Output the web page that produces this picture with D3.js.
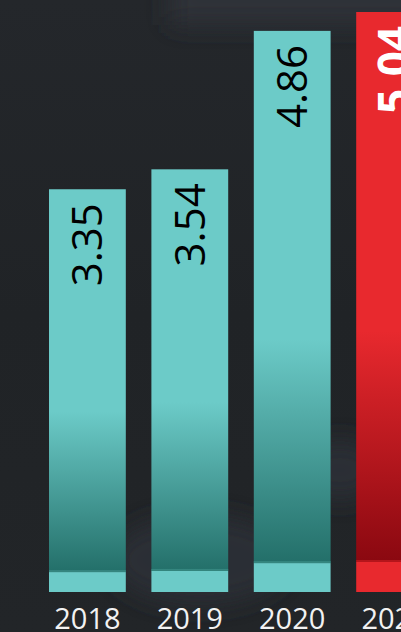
<!DOCTYPE html>
<html>
<head>
<meta charset="utf-8">
<script src="https://cdn.jsdelivr.net/npm/d3@7"></script>
<style>
  html, body { margin: 0; padding: 0; background: #212428; overflow: hidden; }
  svg { display: block; }
</style>
</head>
<body>
<svg id="chart" width="401" height="632"></svg>
<script>
// ---- data ----
const years = ["2018", "2019", "2020", "2021"];
const values = [3.35, 3.54, 4.86, 5.04];
const labels = ["3.35", "3.54", "4.86", "5.04"];
const highlight = [false, false, false, true];

const W = 401, H = 632;
const svg = d3.select("#chart");
const defs = svg.append("defs");

// ---- background ----
const bg = defs.append("linearGradient").attr("id", "bg").attr("x1", 0).attr("y1", 0).attr("x2", 0).attr("y2", 1);
bg.append("stop").attr("offset", 0).attr("stop-color", "#24272b");
bg.append("stop").attr("offset", 0.5).attr("stop-color", "#202326");
bg.append("stop").attr("offset", 1).attr("stop-color", "#222528");
svg.append("rect").attr("width", W).attr("height", H).attr("fill", "url(#bg)");

const blur = defs.append("filter").attr("id", "blur").attr("x", "-50%").attr("y", "-50%").attr("width", "200%").attr("height", "200%");
blur.append("feGaussianBlur").attr("stdDeviation", 12);
svg.append("rect").attr("x", 170).attr("y", -30).attr("width", 280).attr("height", 55)
  .attr("fill", "#2e3139").attr("filter", "url(#blur)");
svg.append("ellipse").attr("cx", 200).attr("cy", 560).attr("rx", 90).attr("ry", 45)
  .attr("fill", "#2a2d34").attr("filter", "url(#blur)");
svg.append("ellipse").attr("cx", 340).attr("cy", 470).attr("rx", 40).attr("ry", 30)
  .attr("fill", "#2c2f34").attr("filter", "url(#blur)");

// ---- scales ----
const baseY = 592;
const x = d3.scaleBand().domain(years).range([49, 433]).paddingInner(0.25).paddingOuter(0);
const y = d3.scaleLinear().domain([-0.49, 5.04]).range([baseY, 12]);
const band = d3.scaleLinear().domain([0, 5.04]).range([0, 30]);

const palettes = {
  teal: { light: "#6ccbc8", dark: "#236f69", line: "#35867f" },
  red:  { light: "#e8292e", dark: "#8a0810", line: "#b5151b" }
};

function gradFor(id, p) {
  const g = defs.append("linearGradient").attr("id", id)
    .attr("x1", 0).attr("y1", 0).attr("x2", 0).attr("y2", 1);
  g.append("stop").attr("offset", 0).attr("stop-color", p.light);
  g.append("stop").attr("offset", 0.58).attr("stop-color", p.light);
  g.append("stop").attr("offset", 1).attr("stop-color", p.dark);
}
gradFor("gTeal", palettes.teal);
gradFor("gRed", palettes.red);

const data = years.map((yr, i) => ({ year: yr, value: values[i], label: labels[i], hi: highlight[i] }));

const g = svg.append("g");
const bars = g.selectAll("g.bar").data(data).join("g").attr("class", "bar");

bars.append("rect")
  .attr("x", d => x(d.year))
  .attr("y", d => y(d.value))
  .attr("width", x.bandwidth())
  .attr("height", d => baseY - band(d.value) - y(d.value))
  .attr("fill", d => d.hi ? "url(#gRed)" : "url(#gTeal)");

bars.append("rect")
  .attr("x", d => x(d.year))
  .attr("y", d => baseY - band(d.value))
  .attr("width", x.bandwidth())
  .attr("height", d => band(d.value))
  .attr("fill", d => d.hi ? palettes.red.light : palettes.teal.light);

bars.append("rect")
  .attr("x", d => x(d.year))
  .attr("y", d => baseY - band(d.value) - 2)
  .attr("width", x.bandwidth())
  .attr("height", 2)
  .attr("fill", d => d.hi ? palettes.red.line : palettes.teal.line);

// value labels (rotated)
bars.append("text")
  .attr("transform", d => `translate(${x(d.year) + x.bandwidth() / 2 + 15},${y(d.value) + 14}) rotate(-90)`)
  .attr("text-anchor", "end")
  .attr("font-family", "'Open Sans', Lato, sans-serif")
  .attr("font-size", d => d.hi ? 44 : 42)
  .attr("font-weight", d => d.hi ? 700 : 400)
  .attr("fill", d => d.hi ? "#ffffff" : "#000000")
  .text(d => d.label);

// year axis labels
g.selectAll("text.year").data(data).join("text").attr("class", "year")
  .attr("x", d => x(d.year) + x.bandwidth() / 2)
  .attr("y", 629)
  .attr("text-anchor", "middle")
  .attr("font-family", "'Open Sans', Lato, sans-serif")
  .attr("font-size", 29)
  .attr("font-weight", 400)
  .attr("fill", "#f2f2f2")
  .text(d => d.year);
</script>
</body>
</html>
